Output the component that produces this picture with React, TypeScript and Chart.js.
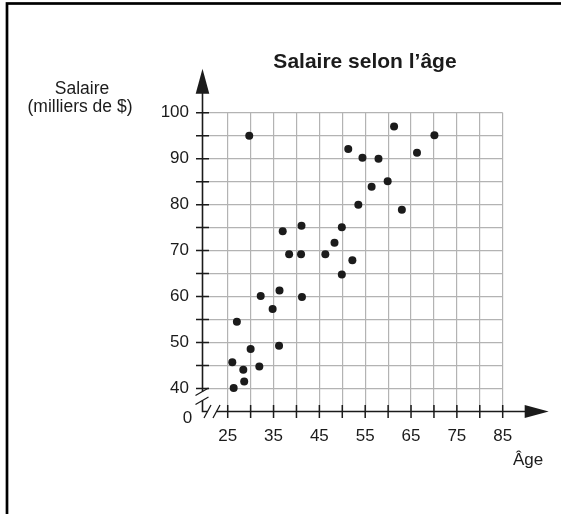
import React, { useEffect, useRef } from "react";
import { Chart, registerables } from "chart.js";

Chart.register(...registerables);

// ---- data ----
const ages = [29.7, 51.3, 54.4, 57.9, 56.4, 53.5, 49.9, 48.3, 37.0, 41.1, 38.4, 41.0, 46.3, 52.2, 49.9, 32.2, 36.3, 41.2, 34.8, 27.0, 30.0, 36.2, 26.0, 28.4, 31.9, 28.6, 26.3, 61.3, 70.1, 66.3, 59.9, 63.0];
const salaries = [95.0, 92.1, 90.2, 90.0, 83.9, 80.0, 75.1, 71.7, 74.2, 75.4, 69.2, 69.2, 69.2, 67.9, 64.8, 60.1, 61.3, 59.9, 57.3, 54.5, 48.6, 49.3, 45.7, 44.1, 44.8, 41.5, 40.1, 97.0, 95.1, 91.3, 85.1, 78.9];
const xLabelValues = [25, 35, 45, 55, 65, 75, 85];
const yLabelValues = [40, 50, 60, 70, 80, 90, 100];
const titleText = "Salaire selon l’âge";
const yTitleLines = ["Salaire", "(milliers de $)"];
const xTitleText = "Âge";
const originText = "0";

const FONT = '"Liberation Sans", Arial, Helvetica, sans-serif';
const GRID = "#b3b3b3";
const INK = "#1b1b1b";

export default function App() {
  const ref = useRef<HTMLCanvasElement>(null);

  useEffect(() => {
    const canvas = ref.current;
    if (!canvas) return;

    const decor = {
      id: "decor",
      afterDraw(chart: any) {
        const { ctx, chartArea: a, scales } = chart;
        const xs = scales.x;
        const ys = scales.y;
        const x0 = a.left;
        const y0 = a.bottom;
        ctx.save();
        ctx.strokeStyle = INK;
        ctx.fillStyle = INK;
        ctx.lineCap = "butt";

        // axes lines with breaks
        ctx.lineWidth = 1.6;
        const yBase = a.top - 20;
        const yTip = a.top - 44;
        const xBase = a.right + 23;
        const xTip = a.right + 46;
        const yGapTop = y0 - 20;
        const yGapBot = y0 - 11;
        const xGapL = x0 + 5;
        const xGapR = x0 + 14;
        ctx.beginPath();
        ctx.moveTo(x0, yBase);
        ctx.lineTo(x0, yGapTop);
        ctx.moveTo(x0, yGapBot);
        ctx.lineTo(x0, y0);
        ctx.lineTo(xGapL, y0);
        ctx.moveTo(xGapR, y0);
        ctx.lineTo(xBase, y0);
        ctx.stroke();

        // break marks
        ctx.lineWidth = 1.3;
        ctx.beginPath();
        for (const yy of [yGapTop, yGapBot]) {
          ctx.moveTo(x0 - 7, yy + 4);
          ctx.lineTo(x0 + 6, yy - 3.5);
        }
        for (const xx of [xGapL, xGapR]) {
          ctx.moveTo(xx - 3.5, y0 + 6.5);
          ctx.lineTo(xx + 3.5, y0 - 6.5);
        }
        ctx.stroke();

        // arrows
        ctx.beginPath();
        ctx.moveTo(x0, yTip);
        ctx.lineTo(x0 - 6.8, yBase + 1);
        ctx.lineTo(x0 + 6.8, yBase + 1);
        ctx.closePath();
        ctx.fill();
        ctx.beginPath();
        ctx.moveTo(xTip, y0);
        ctx.lineTo(xBase - 1, y0 - 6.6);
        ctx.lineTo(xBase - 1, y0 + 6.6);
        ctx.closePath();
        ctx.fill();

        // tick marks
        ctx.lineWidth = 1.5;
        ctx.beginPath();
        for (const t of ys.ticks) {
          const v = t.value;
          if (v < 40 || v > 100 || Math.abs(v / 5 - Math.round(v / 5)) > 1e-6) continue;
          const p = ys.getPixelForValue(v);
          ctx.moveTo(x0 - 6.5, p);
          ctx.lineTo(x0 + 6.5, p);
        }
        for (const t of xs.ticks) {
          const v = t.value;
          if (v < 25 || v > 85 || Math.abs(v / 5 - Math.round(v / 5)) > 1e-6) continue;
          const p = xs.getPixelForValue(v);
          ctx.moveTo(p, y0 - 6.5);
          ctx.lineTo(p, y0 + 6.5);
        }
        ctx.stroke();

        // texts
        ctx.textAlign = "center";
        ctx.textBaseline = "middle";
        ctx.font = `bold 21px ${FONT}`;
        ctx.fillText(titleText, 365, 62);
        ctx.font = `17.5px ${FONT}`;
        ctx.fillText(yTitleLines[0], 82, 89);
        ctx.fillText(yTitleLines[1], 80, 107);
        ctx.font = `17px ${FONT}`;
        ctx.fillText(xTitleText, 528, 460);
        ctx.fillText(originText, 187.5, 418.5);

        // frame
        ctx.lineWidth = 2.7;
        ctx.strokeStyle = "#000";
        ctx.strokeRect(7, 3.5, 700, 700);
        ctx.restore();
      },
    };

    const chart = new Chart(canvas, {
      type: "scatter",
      data: {
        datasets: [
          {
            data: ages.map((a, i) => ({ x: a, y: salaries[i] })),
            backgroundColor: INK,
            borderWidth: 0,
            pointRadius: 4,
            pointHoverRadius: 4,
          },
        ],
      },
      options: {
        responsive: false,
        animation: false,
        events: [],
        layout: { padding: { top: 112.7, right: 58.3, left: 0, bottom: 62.5 } },
        plugins: { legend: { display: false }, tooltip: { enabled: false }, title: { display: false } },
        scales: {
          x: {
            type: "linear",
            min: 19.5,
            max: 85,
            border: { display: false },
            grid: {
              drawTicks: false,
              lineWidth: 1.2,
              color: (c: any) => {
                const v = c.tick ? c.tick.value : NaN;
                return v >= 25 && v <= 85 ? GRID : "rgba(0,0,0,0)";
              },
            },
            ticks: {
              stepSize: 5,
              autoSkip: false,
              maxRotation: 0,
              padding: 14.5,
              color: INK,
              font: { family: FONT, size: 17 },
              callback: (v: any) => (xLabelValues.includes(Number(v)) ? String(v) : ""),
            },
            afterFit: (s: any) => {
              s.height = 40;
            },
          },
          y: {
            type: "linear",
            min: 35,
            max: 100,
            border: { display: false },
            grid: {
              drawTicks: false,
              lineWidth: 1.2,
              color: (c: any) => {
                const v = c.tick ? c.tick.value : NaN;
                return v >= 40 && v <= 100 ? GRID : "rgba(0,0,0,0)";
              },
            },
            ticks: {
              stepSize: 5,
              autoSkip: false,
              padding: 13.5,
              color: INK,
              font: { family: FONT, size: 17 },
              callback: (v: any) => (yLabelValues.includes(Number(v)) ? String(v) : ""),
            },
            afterFit: (s: any) => {
              s.width = 202.5;
            },
          },
        },
      },
      plugins: [decor],
    });

    return () => chart.destroy();
  }, []);

  return (
    <div style={{ position: "absolute", left: 0, top: 0, width: 561, height: 514, background: "#fff" }}>
      <canvas ref={ref} width={561} height={514} style={{ display: "block", width: 561, height: 514 }} />
    </div>
  );
}
